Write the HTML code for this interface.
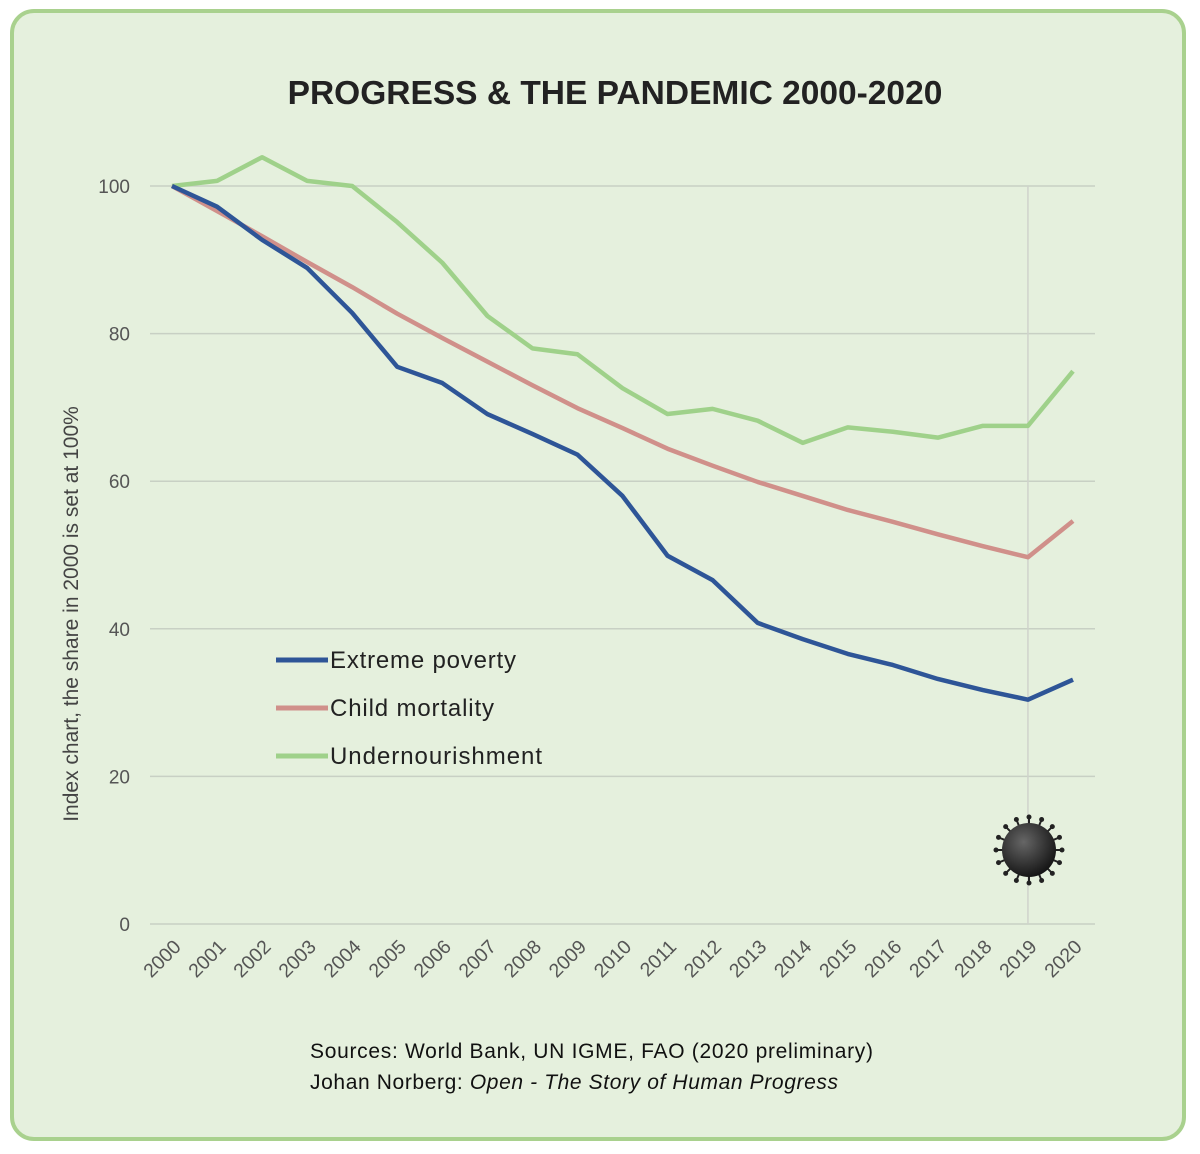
<!DOCTYPE html>
<html><head><meta charset="utf-8"><style>
html,body{margin:0;padding:0;background:#fff;}
svg{display:block;font-family:"Liberation Sans",sans-serif;}
</style></head><body>
<svg id="chart" width="1200" height="1154" viewBox="0 0 1200 1154">
<defs><radialGradient id="vg" cx="0.4" cy="0.35" r="0.7"><stop offset="0" stop-color="#666"/><stop offset="1" stop-color="#111"/></radialGradient></defs>
<rect x="12" y="11" width="1172" height="1128" rx="22" fill="#e5f0dd" stroke="#a9d18e" stroke-width="4"/>
<text x="615" y="104" text-anchor="middle" font-size="33.5" font-weight="bold" fill="#222">PROGRESS &amp; THE PANDEMIC 2000-2020</text>
<g id="grid"></g><g id="xt"></g><g id="lines"></g>
<text transform="translate(78,614) rotate(-90)" text-anchor="middle" font-size="21" fill="#444">Index chart, the share in 2000 is set at 100%</text>
<g font-size="24" fill="#222">
<line x1="276" y1="660" x2="328" y2="660" stroke="#2e5597" stroke-width="5"/><text x="330" y="668" textLength="186">Extreme poverty</text>
<line x1="276" y1="708" x2="328" y2="708" stroke="#d0908a" stroke-width="5"/><text x="330" y="716" textLength="164">Child mortality</text>
<line x1="276" y1="756" x2="328" y2="756" stroke="#9fd18a" stroke-width="5"/><text x="330" y="764" textLength="212">Undernourishment</text>
</g>
<g id="virus"></g>
<text x="310" y="1058" font-size="21" fill="#111" textLength="563">Sources: World Bank, UN IGME, FAO (2020 preliminary)</text>
<text x="310" y="1089" font-size="21" fill="#111" textLength="528">Johan Norberg: <tspan font-style="italic">Open - The Story of Human Progress</tspan></text>
</svg>
<script>
const years=[2000,2001,2002,2003,2004,2005,2006,2007,2008,2009,2010,2011,2012,2013,2014,2015,2016,2017,2018,2019,2020];
const poverty=[100,97.2,92.7,88.9,82.8,75.5,73.3,69.1,66.4,63.6,58.0,49.9,46.6,40.8,38.6,36.6,35.1,33.2,31.7,30.4,33.1];
const childMortality=[100,96.6,93.2,89.7,86.3,82.7,79.4,76.2,73.0,69.9,67.2,64.4,62.1,59.9,58.0,56.1,54.5,52.8,51.2,49.7,54.6];
const undernourishment=[100,100.7,103.9,100.7,100,95.1,89.6,82.4,78.0,77.2,72.6,69.1,69.8,68.2,65.2,67.3,66.7,65.9,67.5,67.5,74.9];
const yTicks=[0,20,40,60,80,100];
const NS="http://www.w3.org/2000/svg";
const xs=i=>172+i*45.05, ys=v=>924-v*7.38;
function mk(t,a,p){const e=document.createElementNS(NS,t);for(const k in a)e.setAttribute(k,a[k]);p.appendChild(e);return e;}
const grid=document.getElementById('grid');
yTicks.forEach(v=>{
 const l=mk('line',{x1:150,x2:1095,y1:ys(v),y2:ys(v),stroke:'#c8d0c4','stroke-width':1.5},grid);
 
 
 const t=mk('text',{x:130,y:ys(v)+7,'text-anchor':'end','font-size':19,fill:'#555'},grid);t.textContent=v;
 
 
});
const vl=mk('line',{x1:xs(19),x2:xs(19),y1:ys(100),y2:ys(0),stroke:'#cfd3cc','stroke-width':1.5},grid);


const xt=document.getElementById('xt');
years.forEach((y,i)=>{
 const t=mk('text',{transform:`translate(${xs(i)+10},${948}) rotate(-45)`,'text-anchor':'end','font-size':19.5,fill:'#555'},xt);t.textContent=y;
 
 
});
const lines=document.getElementById('lines');
[[undernourishment,'#9fd18a','undernourishment-line'],[childMortality,'#d0908a','child-mortality-line'],[poverty,'#2e5597','extreme-poverty-line']].forEach(([d,c,n])=>{
 const p=mk('polyline',{points:d.map((v,i)=>xs(i)+','+ys(v)).join(' '),fill:'none',stroke:c,'stroke-width':4.5,'stroke-linejoin':'round'},lines);
 
 
});
const vg=document.getElementById('virus');const cx=1029,cy=850;
for(let a=0;a<360;a+=22.5){const r=a*Math.PI/180;
 mk('line',{x1:cx+Math.cos(r)*24,y1:cy+Math.sin(r)*24,x2:cx+Math.cos(r)*33,y2:cy+Math.sin(r)*33,stroke:'#222','stroke-width':2},vg);
 mk('circle',{cx:cx+Math.cos(r)*33,cy:cy+Math.sin(r)*33,r:2.5,fill:'#222'},vg);}
mk('circle',{cx:cx,cy:cy,r:27,fill:'url(#vg)'},vg);
</script>
</body></html>
